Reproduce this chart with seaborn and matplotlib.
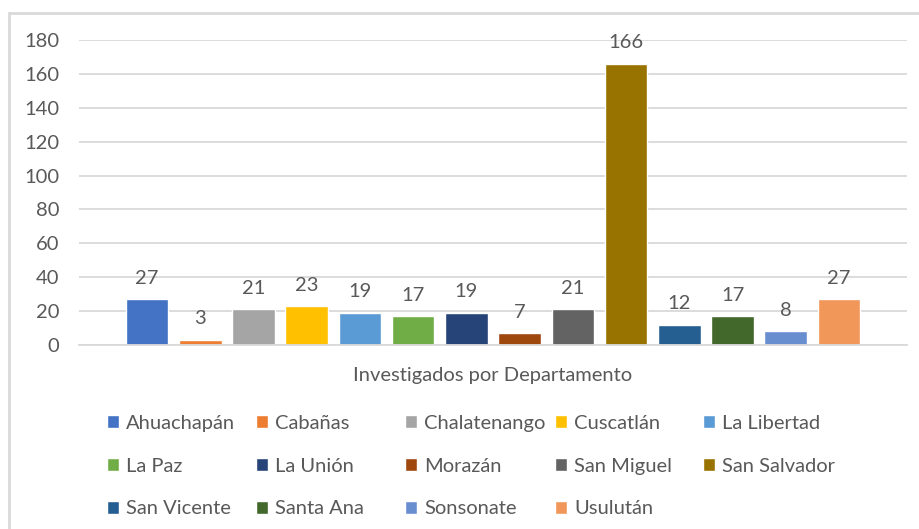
import pandas as pd
import matplotlib
matplotlib.use("Agg")
import matplotlib.pyplot as plt
import seaborn as sns

from matplotlib.patches import Rectangle


departamentos = ["Ahuachapán", "Cabañas", "Chalatenango", "Cuscatlán",
                 "La Libertad", "La Paz", "La Unión", "Morazán",
                 "San Miguel", "San Salvador", "San Vicente", "Santa Ana",
                 "Sonsonate", "Usulután"]
investigados = [27, 3, 21, 23, 19, 17, 19, 7, 21, 166, 12, 17, 8, 27]
grupo = "Investigados por Departamento"
colores = ["#4472C4", "#ED7D31", "#A5A5A5", "#FFC000", "#5B9BD5", "#70AD47",
           "#264478", "#9E480E", "#636363", "#997300", "#255E91", "#43682B",
           "#698ED0", "#F1975A"]
yticks = [0, 20, 40, 60, 80, 100, 120, 140, 160, 180]

TXT = "#595959"
GRID = "#D9D9D9"
FS = 14.5

sns.set_theme(style="white")
plt.rcParams["font.family"] = ["Lato", "DejaVu Sans"]

W, H = 920, 529
fig = plt.figure(figsize=(W / 100, H / 100), dpi=100)
ax = fig.add_axes([79 / W, 1 - 345 / H, (907 - 79) / W, (345 - 40) / H])

data = pd.DataFrame({"grupo": grupo, "depto": departamentos,
                     "valor": investigados})

sns.barplot(data=data, x="grupo", y="valor", hue="depto",
            hue_order=departamentos, palette=colores, width=0.9, gap=0.2,
            saturation=1, legend=True, ax=ax)

handles, labels = ax.get_legend_handles_labels()
ax.legend_.remove()

for cont in ax.containers:
    ax.bar_label(cont, padding=9, fontsize=FS, color=TXT)

ax.set_ylim(0, 180)
ax.set_xlim(-0.5, 0.5)
ax.set_yticks(yticks)
ax.yaxis.grid(True, color=GRID, lw=1.3)
ax.set_axisbelow(True)
for side in ["top", "right", "left"]:
    ax.spines[side].set_visible(False)
ax.spines["bottom"].set_color(GRID)
ax.spines["bottom"].set_linewidth(1.3)
ax.tick_params(axis="y", length=0, pad=14, labelsize=FS, labelcolor=TXT)
ax.tick_params(axis="x", length=0, pad=16, labelsize=FS, labelcolor=TXT)
ax.set_xlabel("")
ax.set_ylabel("")

# legend: 5 equally spaced columns, 3 rows
col_x = [107, 256, 405, 555, 703]
for c, x in enumerate(col_x):
    fig.legend(handles[c::5], labels[c::5], loc="upper left",
               bbox_to_anchor=(x / W, 1 - 415 / H), frameon=False,
               fontsize=FS, labelcolor=TXT, handlelength=0.62,
               handleheight=0.62, handletextpad=0.32, labelspacing=1.27,
               borderpad=0, borderaxespad=0)

# chart frame
fig.patches.append(Rectangle((8.5 / W, -0.1), 1.2, 1.1 - 13.5 / H,
                             transform=fig.transFigure, fill=False,
                             edgecolor=GRID, lw=2))

fig.savefig("out.png", dpi=100)
